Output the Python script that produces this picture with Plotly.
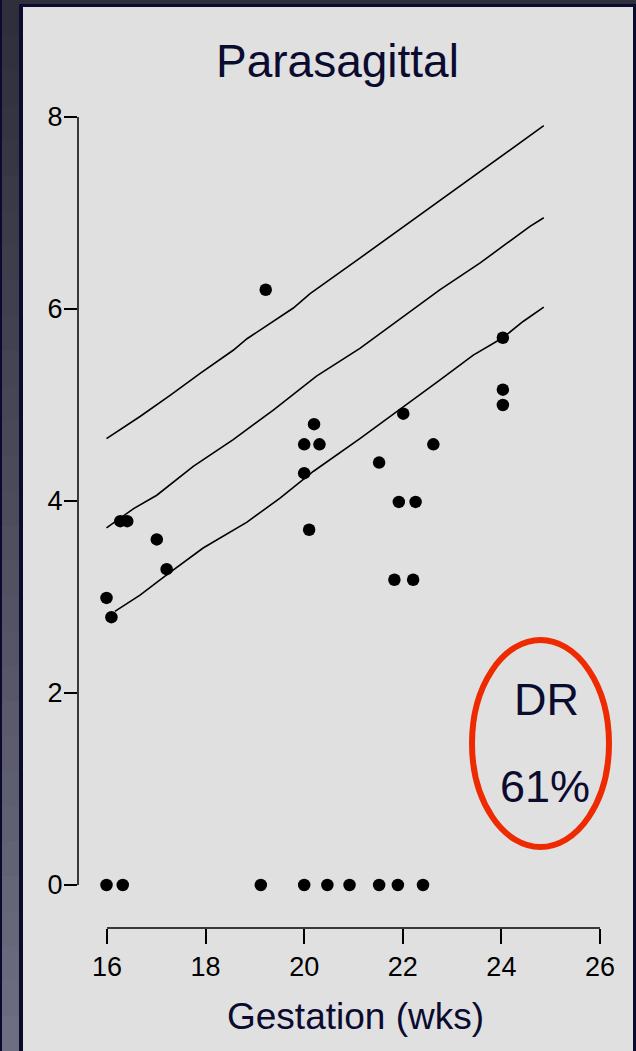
import plotly.graph_objects as go

# ---------------- data ----------------
pts_x = [15.99, 16.09, 16.27, 16.41, 17.01, 17.21, 19.22, 20.0, 20.0, 20.1, 20.2, 20.31,
         21.52, 21.83, 21.92, 22.01, 22.21, 22.26, 22.62, 24.03, 24.03, 24.03]
pts_y = [2.99, 2.79, 3.79, 3.79, 3.60, 3.29, 6.20, 4.59, 4.29, 3.70, 4.80, 4.59,
         4.40, 3.18, 3.99, 4.91, 3.18, 3.99, 4.59, 5.70, 5.16, 5.00]
zero_x = [15.99, 16.32, 19.12, 20.0, 20.47, 20.92, 21.52, 21.9, 22.41]
zero_y = [0, 0, 0, 0, 0, 0, 0, 0, 0]

upper_x = [15.99, 16.67, 17.28, 17.89, 18.56, 18.84, 19.78, 20.12, 21.13, 22.75, 23.57, 24.1, 24.86]
upper_y = [4.65, 4.88, 5.10, 5.33, 5.57, 5.69, 6.01, 6.16, 6.53, 7.13, 7.43, 7.63, 7.91]
mid_x = [15.99, 16.13, 16.54, 17.01, 17.75, 18.56, 19.38, 20.25, 21.13, 22.75, 23.57, 24.1, 24.58, 24.86]
mid_y = [3.72, 3.77, 3.92, 4.06, 4.36, 4.64, 4.95, 5.30, 5.59, 6.20, 6.48, 6.68, 6.86, 6.95]
low_x = [16.16, 16.67, 17.21, 17.95, 18.84, 19.51, 20.19, 20.73, 21.13, 22.75, 23.43, 24.03, 24.44, 24.86]
low_y = [2.85, 3.02, 3.23, 3.51, 3.78, 4.03, 4.31, 4.51, 4.65, 5.26, 5.52, 5.70, 5.87, 6.02]

x_ticks = [16, 18, 20, 22, 24, 26]
y_ticks = [0, 2, 4, 6, 8]

title_text = "Parasagittal"
x_title = "Gestation (wks)"
dr_label = "DR"
dr_value = "61%"

# ---------------- layout geometry ----------------
W, H = 636, 1051
ML, MR, MT, MB = 78, 16, 100, 123
PW, PH = W - ML - MR, H - MT - MB
XR = [15.412, 26.406]
YR = [-0.448, 8.177]

def px(x):
    return (x - ML) / PW

def py(y):
    return (H - MB - y) / PH

def dx(v):
    return (v - XR[0]) / (XR[1] - XR[0])

def dy(v):
    return (v - YR[0]) / (YR[1] - YR[0])

NAVY = "#0b0b30"
FONT = "Liberation Sans, Arial, sans-serif"

fig = go.Figure()
for xs, ys in [(upper_x, upper_y), (mid_x, mid_y), (low_x, low_y)]:
    fig.add_trace(go.Scatter(x=xs, y=ys, mode="lines",
                             line=dict(color="black", width=1.6), hoverinfo="skip"))
fig.add_trace(go.Scatter(x=pts_x + zero_x, y=pts_y + zero_y, mode="markers",
                         marker=dict(color="black", size=12.5, symbol="circle")))

shapes = []
# left gradient strip
n = 30
c0 = (46, 46, 60)
c1 = (110, 110, 130)
for i in range(n):
    t = i / (n - 1)
    c = tuple(int(c0[k] + (c1[k] - c0[k]) * t) for k in range(3))
    shapes.append(dict(type="rect", xref="paper", yref="paper", layer="below",
                       x0=px(0), x1=px(19), y0=py(H * i / n), y1=py(H * (i + 1) / n + 1),
                       fillcolor="rgb(%d,%d,%d)" % c, line=dict(width=0)))
shapes.append(dict(type="rect", xref="paper", yref="paper", layer="below",
                   x0=px(0), x1=px(2), y0=py(0), y1=py(H), fillcolor=NAVY, line=dict(width=0)))
# navy border
shapes.append(dict(type="rect", xref="paper", yref="paper", layer="below",
                   x0=px(19), x1=px(W), y0=py(4), y1=py(H + 5), fillcolor=NAVY, line=dict(width=0)))
# light panel
shapes.append(dict(type="rect", xref="paper", yref="paper", layer="below",
                   x0=px(23), x1=px(633), y0=py(7), y1=py(H + 5), fillcolor="#e0e0e0", line=dict(width=0)))
# axis lines
shapes.append(dict(type="line", xref="paper", yref="paper",
                   x0=dx(x_ticks[0]), x1=dx(x_ticks[-1]), y0=0, y1=0,
                   line=dict(color="black", width=1.5)))
shapes.append(dict(type="line", xref="paper", yref="paper",
                   x0=0, x1=0, y0=dy(y_ticks[0]), y1=dy(y_ticks[-1]),
                   line=dict(color="black", width=1.5)))
# red ellipse
shapes.append(dict(type="circle", xref="paper", yref="paper",
                   x0=px(472), x1=px(609), y0=py(640), y1=py(847),
                   line=dict(color="#ee2a00", width=6)))

annotations = [
    dict(text=title_text, xref="paper", yref="paper", x=px(337.5), y=py(61),
         xanchor="center", yanchor="middle", showarrow=False,
         font=dict(family=FONT, size=46, color=NAVY)),
    dict(text=x_title, xref="paper", yref="paper", x=px(355), y=py(1016),
         xanchor="center", yanchor="middle", showarrow=False,
         font=dict(family=FONT, size=37, color=NAVY)),
    dict(text=dr_label, xref="paper", yref="paper", x=px(546), y=py(699),
         xanchor="center", yanchor="middle", showarrow=False,
         font=dict(family=FONT, size=45, color=NAVY)),
    dict(text=dr_value, xref="paper", yref="paper", x=px(545), y=py(786),
         xanchor="center", yanchor="middle", showarrow=False,
         font=dict(family=FONT, size=45, color=NAVY)),
]

fig.update_layout(
    width=W, height=H,
    margin=dict(l=ML, r=MR, t=MT, b=MB, pad=0),
    paper_bgcolor="#2e2e3c",
    plot_bgcolor="rgba(0,0,0,0)",
    showlegend=False,
    shapes=shapes,
    annotations=annotations,
    xaxis=dict(range=XR, tickvals=x_ticks, ticks="outside", ticklen=15, tickwidth=1.5,
               tickcolor="black", showline=False, showgrid=False, zeroline=False,
               tickfont=dict(family=FONT, size=27, color="black")),
    yaxis=dict(range=YR, tickvals=y_ticks, ticks="outside", ticklen=13, tickwidth=1.5,
               tickcolor="black", showline=False, showgrid=False, zeroline=False,
               ticklabelstandoff=-4,
               tickfont=dict(family=FONT, size=27, color="black")),
)

fig.write_html("out.html", config={"displayModeBar": False},
               post_script="document.body.style.margin='0';document.body.style.overflow='hidden';")
